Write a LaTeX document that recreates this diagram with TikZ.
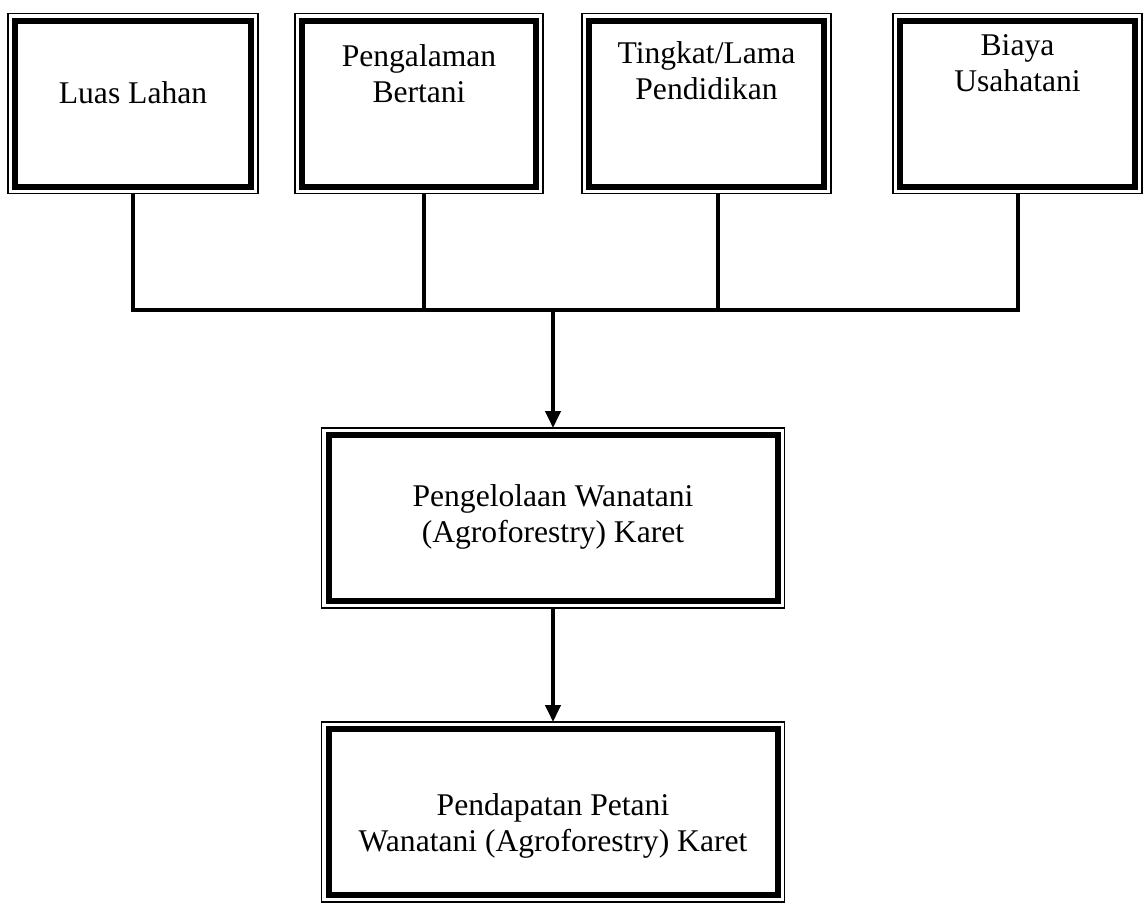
\documentclass[tikz,border=0pt]{standalone}
\usepackage{fontspec}
\setmainfont{Liberation Serif}
\usetikzlibrary{positioning, arrows.meta}
\tikzset{
      frame box/.style={
		draw,
		line width=3pt,
		minimum width=#1,
		minimum height=83pt,
		inner sep=0pt,
		outer sep=3.5pt,
	  },
  		thin frame/.style={
    	draw, line width=0.75pt,
      },
  		box text/.style={
    	anchor=north,
    	inner sep=0pt,
    	align=center,
    	font=\fontsize{15.8pt}{18pt}\selectfont,
      },
  		link/.style={
    	line width=2pt,
      },
  		arrow/.style={
    	link, -{Triangle[width=7.5pt, length=8.5pt]},
      }
  	}

\begin{document}
\begin{tikzpicture}[x=0.5pt, y=-0.5pt]
    \useasboundingbox (0,0) rectangle (1144,902);
    \node [frame box=118pt] (b1) at (133,103.5) {};
    \node [frame box=117pt, right=18.5pt of b1] (b2) {};
    \node [frame box=117.5pt, right=19.5pt of b2] (b3) {};
    \node [frame box=117.5pt, right=31pt of b3] (b4) {};
    \coordinate (jn) at (553,310);
    \node [frame box=224.5pt, below=59pt of jn] (b5) {};
    \node [frame box=224.5pt, below=57pt of b5] (b6) {};
    % thin outer line of every box
    \foreach \b in {b1,b2,b3,b4,b5,b6}
      \draw [thin frame] (\b.north west) rectangle (\b.south east);
    \node [box text] (t1) at ([yshift=-34pt]b1.north) {Luas Lahan};
    \node [box text] (t2) at ([yshift=-15.5pt]b2.north) {Pengalaman\\Bertani};
    \node [box text] (t3) at ([yshift=-14pt]b3.north) {Tingkat/Lama\\Pendidikan};
    \node [box text] (t4) at ([yshift=-10.5pt]b4.north) {Biaya\\Usahatani};
    \node [box text] (t5) at ([yshift=-28pt]b5.north) {Pengelolaan Wanatani\\(Agroforestry) Karet};
    \node [box text] (t6) at ([yshift=-35.5pt]b6.north) {Pendapatan Petani\\Wanatani (Agroforestry) Karet};
    % connectors
    \coordinate (c2) at ([xshift=2.5pt]b2.south);
    \coordinate (c3) at ([xshift=5.75pt]b3.south);
    \draw [link] (b1.south) |- (jn) -| (b4.south);
    \draw [link] (c2) -- (c2 |- jn);
    \draw [link] (c3) -- (c3 |- jn);
    \draw [arrow] (jn) -- (b5);
    \draw [arrow] (b5) -- (b6);
  \end{tikzpicture}
\end{document}
